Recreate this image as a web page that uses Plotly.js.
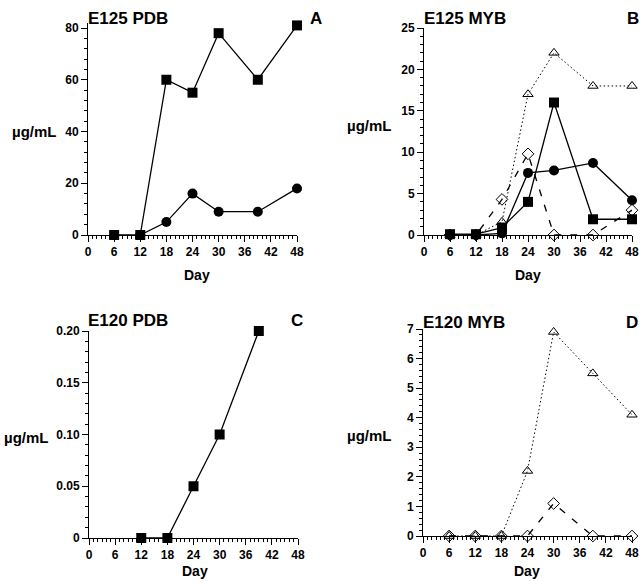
<!DOCTYPE html>
<html><head><meta charset="utf-8">
<script src="https://cdn.plot.ly/plotly-3.0.1.min.js"></script>
<style>html,body{margin:0;padding:0;background:#fff}</style>
</head><body><div id="chart" style="width:640px;height:582px"></div>
<script>
// Panel A: E125 PDB
const aDays = [6, 12, 18, 24, 30, 39, 48];
const aSquare = [0, 0, 60, 55, 78, 60, 81];
const aCircleDays = [12, 18, 24, 30, 39, 48];
const aCircle = [0, 5, 16, 9, 9, 18];
// Panel B: E125 MYB
const bDays = [6, 12, 18, 24, 30, 39, 48];
const bSquare = [0.1, 0.1, 0.9, 4, 16, 1.9, 1.9];
const bCircle = [0, 0, 0.2, 7.5, 7.8, 8.7, 4.2];
const bTriangle = [0, 0, 1.6, 17, 22, 18, 18];
const bDiamond = [0, 0, 4.3, 9.8, 0, 0, 3];
// Panel C: E120 PDB
const cDays = [12, 18, 24, 30, 39];
const cSquare = [0, 0, 0.05, 0.10, 0.20];
// Panel D: E120 MYB
const dDays = [6, 12, 18, 24, 30, 39, 48];
const dTriangle = [0, 0, 0, 2.2, 6.9, 5.5, 4.1];
const dDiamond = [0, 0, 0, 0, 1.1, 0, 0];
// Tick labels
const dayTicks = [0, 6, 12, 18, 24, 30, 36, 42, 48];
const aTickVals = [0, 20, 40, 60, 80];
const cTickVals = [0, 0.05, 0.10, 0.15, 0.20];
const cTickText = ['0', '0.05', '0.10', '0.15', '0.20'];
const panelTitles = ['E125 PDB', 'E125 MYB', 'E120 PDB', 'E120 MYB'];
const panelLetters = ['A', 'B', 'C', 'D'];

const FONT = 'Liberation Sans, Arial, sans-serif';
const solid = {color: '#000', width: 1.3};
const dotted = {color: '#000', width: 1, dash: '1.5px,2.5px'};
const dashed = {color: '#000', width: 1.3, dash: '7px,9px'};
const mSquare = {symbol: 'square', size: 10, color: '#000'};
const mCircle = {symbol: 'circle', size: 10, color: '#000'};
const mTri = {symbol: 'triangle-up-open', size: 9, color: '#000', line: {width: 1, color: '#000'}};
const mDia = {symbol: 'diamond-open', size: 9, color: '#000', line: {width: 1, color: '#000'}};

function tr(x, y, line, marker, xa, ya) {
  return {x: x, y: y, mode: 'lines+markers', line: line, marker: marker,
    xaxis: xa, yaxis: ya, cliponaxis: false, showlegend: false, hoverinfo: 'skip'};
}
const data = [
  tr(aCircleDays, aCircle, solid, mCircle, 'x', 'y'),
  tr(aDays, aSquare, solid, mSquare, 'x', 'y'),
  tr(bDays, bDiamond, dashed, mDia, 'x2', 'y2'),
  tr(bDays, bTriangle, dotted, mTri, 'x2', 'y2'),
  tr(bDays, bCircle, solid, mCircle, 'x2', 'y2'),
  tr(bDays, bSquare, solid, mSquare, 'x2', 'y2'),
  tr(cDays, cSquare, solid, mSquare, 'x3', 'y3'),
  tr(dDays, dDiamond, dashed, mDia, 'x4', 'y4'),
  tr(dDays, dTriangle, dotted, mTri, 'x4', 'y4')
];

const W = 640, H = 582;
const tickfont = {family: FONT, size: 12, color: '#000', weight: 'bold'};
function xax(l, r, anchor) {
  return {domain: [l / W, r / W], range: [0, 48], tickvals: dayTicks, anchor: anchor,
    showline: true, linecolor: '#000', linewidth: 1, ticks: 'outside', ticklen: 6, tickwidth: 1,
    tickcolor: '#000', showgrid: false, zeroline: false, tickfont: tickfont, fixedrange: true,
    minor: {dtick: 1, ticks: 'outside', ticklen: 3, tickcolor: '#000', tickwidth: 1, showgrid: false}};
}
function yax(t, b, range, dtick, minor, anchor) {
  return {domain: [1 - b / H, 1 - t / H], range: range, dtick: dtick, tick0: 0, anchor: anchor,
    showline: true, linecolor: '#000', linewidth: 1, ticks: 'outside', ticklen: 6, tickwidth: 1,
    tickcolor: '#000', showgrid: false, zeroline: false, tickfont: tickfont, fixedrange: true,
    minor: {dtick: minor, ticks: 'outside', ticklen: 3, tickcolor: '#000', tickwidth: 1, showgrid: false}};
}
// panel A: range slightly above 80 so the last point (81) is drawn; 80 stays at the same pixel
const yA = yax(28 - 207 * 2 / 80, 235, [0, 82], 20, 4, 'x');
yA.tickvals = aTickVals; delete yA.dtick;
const yC = yax(331, 538, [0, 0.2], 0.05, 0.01, 'x3');
yC.tickvals = cTickVals; yC.ticktext = cTickText; delete yC.dtick;

const titleFont = {family: FONT, size: 17, color: '#000', weight: 'bold'};
const labFont = {family: FONT, size: 15, color: '#000', weight: 'bold'};
const dayFont = {family: FONT, size: 14, color: '#000', weight: 'bold'};
function ann(text, px, py, xanchor, font) {
  return {text: text, x: px / W, y: 1 - py / H, xref: 'paper', yref: 'paper',
    xanchor: xanchor, yanchor: 'middle', showarrow: false, font: font};
}
const annotations = [
  ann(panelTitles[0], 86, 19, 'left', titleFont),
  ann(panelTitles[1], 422, 18, 'left', titleFont),
  ann(panelTitles[2], 86, 320, 'left', titleFont),
  ann(panelTitles[3], 421, 322, 'left', titleFont),
  ann(panelLetters[0], 316, 18, 'center', titleFont),
  ann(panelLetters[1], 633, 19, 'center', titleFont),
  ann(panelLetters[2], 297, 320, 'center', titleFont),
  ann(panelLetters[3], 632, 322, 'center', titleFont),
  ann('µg/mL', 58, 132, 'right', labFont),
  ann('µg/mL', 393, 125, 'right', labFont),
  ann('µg/mL', 50, 437, 'right', labFont),
  ann('µg/mL', 393, 435, 'right', labFont),
  ann('Day', 197, 275, 'center', dayFont),
  ann('Day', 528, 275, 'center', dayFont),
  ann('Day', 195, 571, 'center', dayFont),
  ann('Day', 527, 571, 'center', dayFont)
];

const layout = {
  width: W, height: H, margin: {l: 0, r: 0, t: 0, b: 0},
  paper_bgcolor: '#fff', plot_bgcolor: 'rgba(0,0,0,0)',
  font: {family: FONT, color: '#000'},
  xaxis: xax(88, 297, 'y'),
  yaxis: yA,
  xaxis2: xax(424, 632, 'y2'),
  yaxis2: yax(28, 235, [0, 25], 5, 1, 'x2'),
  xaxis3: xax(89, 298, 'y3'),
  yaxis3: yC,
  xaxis4: xax(423, 632, 'y4'),
  yaxis4: yax(329, 536, [0, 7], 1, 0.2, 'x4'),
  annotations: annotations
};
Plotly.newPlot('chart', data, layout, {displayModeBar: false, staticPlot: true});
</script></body></html>
